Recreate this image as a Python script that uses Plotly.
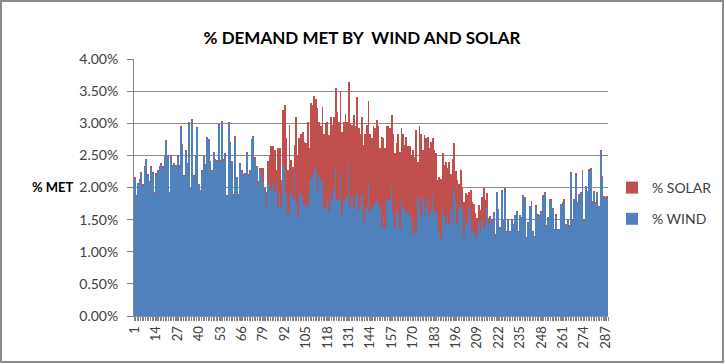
import plotly.graph_objects as go

# ---- data (percent of demand) ----
intervals = list(range(1, 289))
tick_labels = [1, 14, 27, 40, 53, 66, 79, 92, 105, 118, 131, 144, 157, 170, 183, 196, 209, 222, 235, 248, 261, 274, 287]

wind = [
    2.14, 1.87, 2.06, 2.11, 2.23, 2.03, 2.31, 2.43, 2.19, 2.08,
    2.31, 2.23, 1.91, 2.21, 2.26, 2.31, 2.36, 2.31, 2.47, 2.72,
    2.49, 1.92, 2.49, 2.34, 2.37, 2.34, 2.49, 2.34, 2.94, 2.66,
    2.17, 2.57, 2.37, 3.00, 1.98, 3.05, 2.17, 2.47, 2.93, 2.04,
    1.95, 2.26, 2.48, 2.35, 2.77, 2.74, 2.40, 2.26, 2.53, 2.43,
    2.41, 2.97, 2.41, 3.01, 2.42, 2.52, 1.87, 3.00, 2.69, 2.40,
    1.88, 2.78, 2.15, 1.88, 2.36, 2.25, 2.20, 2.21, 2.53, 2.20,
    2.25, 2.74, 2.79, 2.45, 2.32, 2.04, 2.25, 2.20, 2.09, 1.96,
    1.65, 2.04, 2.12, 1.96, 2.04, 1.93, 2.09, 1.70, 1.93, 1.70,
    2.35, 2.30, 1.90, 1.57, 1.60, 1.91, 1.83, 2.25, 1.78, 1.52,
    1.91, 1.88, 1.88, 1.75, 1.70, 1.73, 1.91, 2.14, 2.19, 2.35,
    2.25, 1.93, 2.17, 2.09, 2.14, 1.68, 1.70, 1.86, 1.62, 1.88,
    1.78, 1.96, 2.32, 1.81, 1.81, 2.22, 1.57, 1.78, 1.86, 1.86,
    2.38, 1.70, 1.86, 1.68, 1.83, 1.91, 1.65, 1.75, 1.88, 1.47,
    1.62, 1.70, 2.09, 1.62, 1.68, 1.70, 1.75, 1.83, 1.78, 1.70,
    1.39, 1.57, 1.36, 1.81, 1.81, 1.81, 1.99, 1.60, 1.39, 1.70,
    1.57, 1.34, 1.83, 1.68, 1.70, 1.60, 1.62, 1.52, 1.57, 1.26,
    1.42, 1.29, 1.86, 1.75, 1.55, 1.83, 1.55, 1.70, 1.83, 1.55,
    1.65, 1.88, 1.65, 1.60, 1.49, 1.29, 1.18, 1.68, 1.55, 1.42,
    1.55, 1.42, 1.65, 1.44, 1.96, 1.81, 1.42, 1.70, 1.75, 1.65,
    1.23, 1.52, 1.42, 1.70, 1.52, 1.34, 1.29, 1.16, 1.26, 1.44,
    1.31, 1.49, 1.36, 1.44, 1.68, 1.42, 1.52, 1.49, 1.60, 1.26,
    1.92, 1.65, 1.36, 1.95, 1.47, 1.97, 1.31, 1.49, 1.31, 1.49,
    1.42, 1.56, 1.62, 1.30, 1.56, 1.53, 1.86, 1.83, 1.21, 1.45,
    1.70, 1.77, 1.31, 1.23, 1.71, 1.57, 1.55, 1.62, 1.86, 1.91,
    1.40, 1.53, 1.80, 1.80, 1.67, 1.34, 1.57, 1.34, 1.34, 1.73,
    1.75, 1.80, 1.42, 1.47, 1.40, 2.23, 1.49, 1.81, 2.21, 1.75,
    1.88, 1.92, 2.26, 1.49, 2.01, 1.93, 2.27, 2.28, 1.77, 1.93,
    1.75, 1.91, 1.70, 2.56, 2.16, 1.85, 1.83, 1.85,
]

solar = [
    0.01, 0.01, 0.01, 0.01, 0.01, 0.01, 0.01, 0.01, 0.01, 0.01,
    0.01, 0.01, 0.01, 0.01, 0.01, 0.01, 0.01, 0.01, 0.01, 0.01,
    0.01, 0.01, 0.01, 0.01, 0.01, 0.01, 0.01, 0.01, 0.01, 0.01,
    0.01, 0.01, 0.01, 0.01, 0.01, 0.01, 0.01, 0.01, 0.01, 0.01,
    0.01, 0.01, 0.01, 0.01, 0.01, 0.01, 0.01, 0.01, 0.01, 0.01,
    0.01, 0.01, 0.01, 0.01, 0.01, 0.01, 0.01, 0.01, 0.01, 0.01,
    0.01, 0.01, 0.01, 0.01, 0.01, 0.01, 0.01, 0.01, 0.01, 0.01,
    0.01, 0.01, 0.01, 0.01, 0.01, 0.06, 0.05, 0.10, 0.21, 0.04,
    0.28, 0.37, 0.39, 0.68, 0.61, 0.65, 0.18, 0.92, 0.68, 0.42,
    0.86, 0.98, 0.87, 0.70, 1.37, 0.52, 0.49, 0.41, 1.31, 0.99,
    0.86, 0.96, 0.99, 0.96, 0.99, 1.29, 0.70, 1.17, 1.09, 1.08,
    1.13, 1.30, 0.85, 0.86, 1.12, 1.16, 1.30, 1.16, 1.20, 1.22,
    1.19, 1.14, 1.23, 1.37, 1.21, 1.28, 1.30, 1.24, 1.29, 1.16,
    1.26, 1.30, 1.11, 1.45, 1.12, 1.50, 1.27, 1.09, 1.22, 1.19,
    1.22, 1.27, 1.25, 1.22, 1.09, 1.25, 1.17, 1.22, 1.17, 0.91,
    1.40, 1.20, 1.25, 1.14, 1.14, 1.11, 1.14, 1.24, 1.14, 0.99,
    1.27, 1.22, 1.09, 1.16, 0.96, 1.19, 1.02, 1.12, 0.94, 1.32,
    1.06, 1.60, 0.54, 1.21, 1.29, 0.75, 1.27, 1.07, 0.96, 1.06,
    1.06, 0.89, 0.93, 0.93, 0.63, 0.88, 0.96, 0.85, 0.80, 0.98,
    0.75, 0.98, 0.56, 1.01, 0.74, 0.44, 0.70, 0.36, 0.52, 0.36,
    0.55, 0.39, 0.46, 0.23, 0.44, 0.44, 0.46, 0.44, 0.26, 0.29,
    0.34, 0.37, 0.63, 0.37, 0.23, 0.10, 0.03, 0.01, 0.01, 0.01,
    0.01, 0.01, 0.01, 0.01, 0.01, 0.01, 0.01, 0.01, 0.01, 0.01,
    0.01, 0.01, 0.01, 0.01, 0.01, 0.01, 0.01, 0.01, 0.01, 0.01,
    0.01, 0.01, 0.01, 0.01, 0.01, 0.01, 0.01, 0.01, 0.01, 0.01,
    0.01, 0.01, 0.01, 0.01, 0.01, 0.01, 0.01, 0.01, 0.01, 0.01,
    0.01, 0.01, 0.01, 0.01, 0.01, 0.01, 0.01, 0.01, 0.01, 0.01,
    0.01, 0.01, 0.01, 0.01, 0.01, 0.01, 0.01, 0.01, 0.01, 0.01,
    0.01, 0.01, 0.01, 0.01, 0.01, 0.01, 0.01, 0.01,
]

WIND_COLOR = "#4F81BD"
SOLAR_COLOR = "#C0504D"
FONT = "Lato, 'Liberation Sans', sans-serif"

W, H = 726, 364
ML, MR, MT, MB = 134, 118, 59, 48
PW, PH = W - ML - MR, H - MT - MB

def px_x(p):
    return (p - ML) / PW

def px_y(p):
    return (H - MB - p) / PH

fig = go.Figure()
fig.add_trace(go.Bar(x=intervals, y=[v / 100 for v in wind], name="% WIND",
                     legendgroup="w", legendrank=2,
                     marker=dict(color=WIND_COLOR, line=dict(width=0))))
fig.add_trace(go.Bar(x=intervals, y=[v / 100 for v in solar], name="% SOLAR",
                     legendgroup="s", legendrank=1,
                     marker=dict(color=SOLAR_COLOR, line=dict(width=0))))

fig.update_layout(
    width=W, height=H,
    margin=dict(l=ML, r=MR, t=MT, b=MB, pad=0, autoexpand=False),
    barmode="stack", bargap=0.45,
    paper_bgcolor="white", plot_bgcolor="white",
    font=dict(family=FONT, size=13, color="#404040"),
    title=dict(text="<b>% DEMAND MET BY  WIND AND SOLAR</b>", x=px_x(362), xref="paper",
               xanchor="center", y=1 - 38 / H, yanchor="middle",
               font=dict(family=FONT, size=17, color="#000000")),
    legend=dict(traceorder="grouped", x=px_x(612), xanchor="left", y=px_y(172), yanchor="top",
                yref="paper", font=dict(family=FONT, size=14, color="#404040"),
                itemwidth=30, tracegroupgap=10, bgcolor="rgba(0,0,0,0)"),
    showlegend=True,
    xaxis=dict(
        range=[0.5, 288.5], tickmode="array", tickvals=tick_labels,
        ticktext=[str(t) for t in tick_labels], tickangle=-90,
        showgrid=False, zeroline=False, showline=True, linecolor="#868686", linewidth=1,
        ticks="outside", ticklen=4, tickcolor="#868686",
        minor=dict(dtick=1, tick0=0.5, ticks="outside", ticklen=4, tickcolor="#868686", showgrid=False),
        tickfont=dict(family=FONT, size=13, color="#404040"),
    ),
    yaxis=dict(
        range=[0, 0.04], dtick=0.005, tickformat=".2%",
        showgrid=True, gridcolor="#8C8C8C", gridwidth=1.3,
        zeroline=False, showline=True, linecolor="#868686", linewidth=1,
        ticks="outside", ticklen=6, tickcolor="#868686", ticklabelstandoff=6,
        tickfont=dict(family=FONT, size=14, color="#404040"),
    ),
    annotations=[
        dict(text="<b>% MET</b>", xref="paper", yref="paper", x=px_x(53), y=px_y(187),
             xanchor="center", yanchor="middle", showarrow=False,
             font=dict(family=FONT, size=13, color="#000000")),
    ],
    shapes=[
        dict(type="rect", xref="paper", yref="paper",
             x0=px_x(1), x1=px_x(723), y0=px_y(362), y1=px_y(1),
             line=dict(color="#8C8C8C", width=2), fillcolor="rgba(0,0,0,0)", layer="below"),
    ],
)

fig.write_html("out.html", config={"displayModeBar": False},
               post_script="document.body.style.margin='0';")
